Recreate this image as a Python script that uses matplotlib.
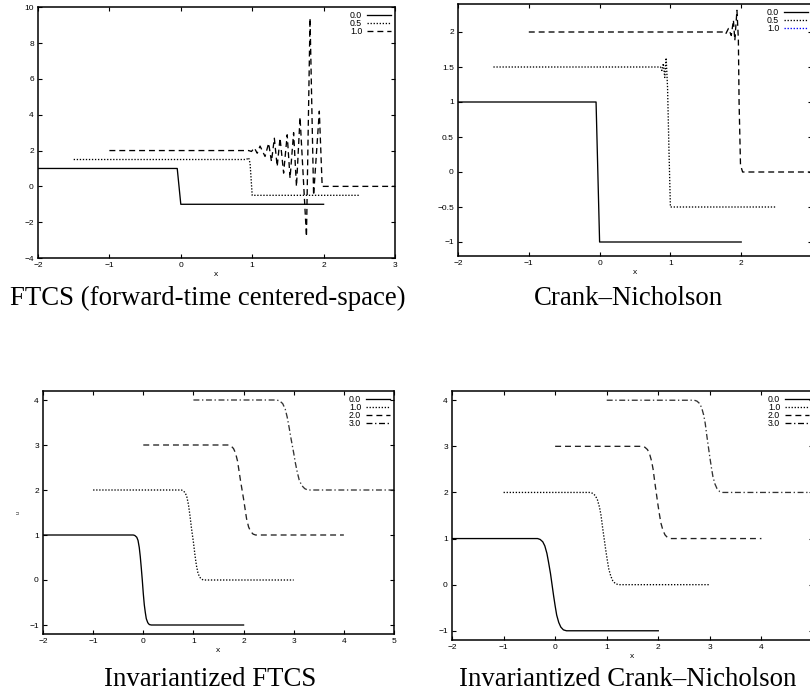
import matplotlib
matplotlib.use("Agg")
import matplotlib.pyplot as plt
from matplotlib.lines import Line2D
from matplotlib.ticker import FuncFormatter

plt.rcParams['font.family'] = ['Liberation Sans', 'DejaVu Sans']

# ---- FTCS (forward-time centered-space) ----
ftcs_x_00 = [-2.0, -0.05, 0.0, 2.0]
ftcs_u_00 = [1.0, 1.0, -1.0, -1.0]
ftcs_x_05 = [-1.5, 0.92, 0.95, 0.97, 1.0, 2.5]
ftcs_u_05 = [1.5, 1.5, 1.6, 1.3, -0.5, -0.5]
ftcs_x_10 = [-1.0, 0.95, 0.99, 1.03, 1.07, 1.11, 1.18, 1.23, 1.27, 1.31, 1.35, 1.39,
             1.44, 1.49, 1.53, 1.58, 1.62, 1.67, 1.76, 1.81, 1.86, 1.94, 1.98, 3.0]
ftcs_u_10 = [2.0, 2.0, 1.95, 2.15, 1.85, 2.25, 1.67, 2.41, 1.39, 2.69, 1.11, 2.7,
             0.74, 2.88, 0.46, 3.0, -0.01, 3.87, -2.8, 9.4, -0.5, 4.2, 0.0, 0.0]

# ---- Crank-Nicholson ----
cn_x_00 = [-2.0, -0.05, 0.0, 2.0]
cn_u_00 = [1.0, 1.0, -1.0, -1.0]
cn_x_05 = [-1.5, 0.86, 0.88, 0.90, 0.92, 0.94, 0.96, 0.98, 1.0, 2.5]
cn_u_05 = [1.5, 1.5, 1.45, 1.55, 1.35, 1.63, 1.2, 0.3, -0.5, -0.5]
cn_x_10 = [-1.0, 1.74, 1.78, 1.82, 1.86, 1.89, 1.91, 1.94, 1.96, 1.97, 1.99, 2.02, 3.0]
cn_u_10 = [2.0, 2.0, 1.97, 2.05, 1.95, 2.17, 1.88, 2.31, 1.9, 1.0, 0.1, 0.0, 0.0]

# ---- Invariantized FTCS ----
iftcs_x_0 = [-2.0, -0.20, -0.17, -0.13, -0.105, -0.08, -0.06, -0.04, -0.02, 0.0, 0.02,
             0.04, 0.06, 0.09, 0.12, 0.16, 2.0]
iftcs_u_0 = [1.0, 1.0, 0.99, 0.95, 0.88, 0.72, 0.52, 0.27, 0.0, -0.3, -0.55,
             -0.72, -0.86, -0.95, -0.99, -1.0, -1.0]
iftcs_x_1 = [-1.0, 0.76, 0.80, 0.84, 0.87, 0.90, 0.93, 0.96, 0.98, 1.00, 1.03, 1.06,
             1.09, 1.12, 1.16, 1.20, 3.0]
iftcs_u_1 = [2.0, 2.0, 1.98, 1.93, 1.84, 1.68, 1.44, 1.16, 1.0, 0.84, 0.56, 0.32,
             0.16, 0.07, 0.02, 0.0, 0.0]
iftcs_x_2 = [0.0, 1.70, 1.75, 1.80, 1.84, 1.88, 1.91, 1.94, 1.97, 2.00, 2.03, 2.06,
             2.10, 2.14, 2.19, 2.24, 4.0]
iftcs_u_2 = [3.0, 3.0, 2.98, 2.92, 2.82, 2.64, 2.42, 2.2, 2.0, 1.8, 1.58, 1.36,
             1.18, 1.08, 1.02, 1.0, 1.0]
iftcs_x_3 = [1.0, 2.66, 2.72, 2.78, 2.83, 2.87, 2.91, 2.94, 2.97, 3.00, 3.03, 3.07,
             3.11, 3.16, 3.22, 3.28, 5.0]
iftcs_u_3 = [4.0, 4.0, 3.98, 3.92, 3.8, 3.62, 3.38, 3.18, 3.0, 2.82, 2.62, 2.4,
             2.22, 2.1, 2.03, 2.0, 2.0]

# ---- Invariantized Crank-Nicholson ----
icn_x_0 = [-2.0, -0.34, -0.29, -0.24, -0.20, -0.16, -0.13, -0.09, -0.06, -0.03, 0.0,
           0.03, 0.07, 0.11, 0.16, 0.22, 2.0]
icn_u_0 = [1.0, 1.0, 0.98, 0.93, 0.84, 0.68, 0.5, 0.24, 0.0, -0.24, -0.46,
           -0.66, -0.82, -0.92, -0.98, -1.0, -1.0]
icn_x_1 = [-1.0, 0.68, 0.73, 0.78, 0.82, 0.86, 0.89, 0.92, 0.95, 0.98, 1.01, 1.04,
           1.08, 1.12, 1.17, 1.23, 3.0]
icn_u_1 = [2.0, 2.0, 1.98, 1.93, 1.84, 1.68, 1.5, 1.24, 1.0, 0.76, 0.54, 0.34,
           0.18, 0.08, 0.02, 0.0, 0.0]
icn_x_2 = [0.0, 1.69, 1.74, 1.79, 1.83, 1.87, 1.90, 1.93, 1.96, 1.99, 2.02, 2.05,
           2.09, 2.13, 2.18, 2.24, 4.0]
icn_u_2 = [3.0, 3.0, 2.98, 2.93, 2.84, 2.68, 2.5, 2.24, 2.0, 1.76, 1.54, 1.34,
           1.18, 1.08, 1.02, 1.0, 1.0]
icn_x_3 = [1.0, 2.70, 2.75, 2.80, 2.84, 2.88, 2.91, 2.94, 2.97, 3.00, 3.03, 3.06,
           3.10, 3.14, 3.19, 3.25, 5.0]
icn_u_3 = [4.0, 4.0, 3.98, 3.93, 3.84, 3.68, 3.5, 3.24, 3.0, 2.76, 2.54, 2.34,
           2.18, 2.08, 2.02, 2.0, 2.0]

labels_top = ['0.0', '0.5', '1.0']
labels_bot = ['0.0', '1.0', '2.0', '3.0']
titles = ['FTCS (forward-time centered-space)', 'Crank\u2013Nicholson',
          'Invariantized FTCS', 'Invariantized Crank\u2013Nicholson']

SOLID = '-'
DOT = (0, (1.0, 1.3))
DASH = (0, (4.5, 3.0))
DASHDOT = (0, (4.5, 2.0, 1.0, 2.0))

fig = plt.figure(figsize=(8.1, 6.94), dpi=100)

W, H = 810.0, 694.0


def make_ax(left, right, top, bottom):
    return fig.add_axes([left / W, 1 - bottom / H, (right - left) / W, (bottom - top) / H])


def style(ax, xlim, ylim, xticks, yticks, hide_last_x=False):
    ax.set_xlim(xlim)
    ax.set_ylim(ylim)
    ax.set_xticks(xticks)
    ax.set_yticks(yticks)
    last = xticks[-1]

    def fx(v, p):
        if hide_last_x and abs(v - last) < 1e-9:
            return ''
        return ('%g' % v).replace('-', '\u2212')

    ax.xaxis.set_major_formatter(FuncFormatter(fx))
    ax.yaxis.set_major_formatter(FuncFormatter(lambda v, p: ('%g' % v).replace('-', '\u2212')))
    ax.tick_params(direction='in', top=True, right=True, length=3, width=0.8,
                   labelsize=6, pad=3)
    for s in ax.spines.values():
        s.set_linewidth(1.1)
    ax.set_xlabel('x', fontsize=6, labelpad=1)


def legend(ax, handles, labels):
    ax.legend(handles, labels, loc='upper right', fontsize=6.3, markerfirst=False,
              frameon=False, handlelength=2.7, handletextpad=0.6, labelspacing=-0.1,
              borderaxespad=0.25, borderpad=0.2)


lw = 0.95

# top-left
ax1 = make_ax(38, 395, 7.3, 258)
ax1.plot(ftcs_x_00, ftcs_u_00, color='k', lw=lw, ls=SOLID)
ax1.plot(ftcs_x_05, ftcs_u_05, color='k', lw=lw, ls=DOT)
ax1.plot(ftcs_x_10, ftcs_u_10, color='k', lw=lw, ls=DASH)
style(ax1, (-2, 3), (-4, 10), list(range(-2, 4)), list(range(-4, 11, 2)))
legend(ax1, [Line2D([], [], color='k', lw=lw, ls=s) for s in (SOLID, DOT, DASH)], labels_top)

# top-right
ax2 = make_ax(458, 812, 4, 256)
ax2.plot(cn_x_00, cn_u_00, color='k', lw=lw, ls=SOLID)
ax2.plot(cn_x_05, cn_u_05, color='k', lw=lw, ls=DOT)
ax2.plot(cn_x_10, cn_u_10, color='k', lw=lw, ls=DASH)
style(ax2, (-2, 3), (-1.2, 2.4), list(range(-2, 4)), [-1, -0.5, 0, 0.5, 1, 1.5, 2],
      hide_last_x=True)
legend(ax2, [Line2D([], [], color='k', lw=lw, ls=SOLID),
             Line2D([], [], color='k', lw=lw, ls=DOT),
             Line2D([], [], color='b', lw=lw, ls=DOT)], labels_top)

# bottom-left
ax3 = make_ax(43, 394, 391, 634)
ax3.plot(iftcs_x_0, iftcs_u_0, color='k', lw=lw, ls=SOLID)
ax3.plot(iftcs_x_1, iftcs_u_1, color='k', lw=lw, ls=DOT)
ax3.plot(iftcs_x_2, iftcs_u_2, color='#222222', lw=lw, ls=DASH)
ax3.plot(iftcs_x_3, iftcs_u_3, color='#333333', lw=lw, ls=DASHDOT)
style(ax3, (-2, 5), (-1.2, 4.2), list(range(-2, 6)), list(range(-1, 5)))
ax3.set_ylabel('u', fontsize=3.5, labelpad=6)
legend(ax3, [Line2D([], [], color='k', lw=lw, ls=s) for s in (SOLID, DOT, DASH, DASHDOT)],
       labels_bot)

# bottom-right
ax4 = make_ax(452, 813, 391, 640)
ax4.plot(icn_x_0, icn_u_0, color='k', lw=lw, ls=SOLID)
ax4.plot(icn_x_1, icn_u_1, color='k', lw=lw, ls=DOT)
ax4.plot(icn_x_2, icn_u_2, color='#222222', lw=lw, ls=DASH)
ax4.plot(icn_x_3, icn_u_3, color='#333333', lw=lw, ls=DASHDOT)
style(ax4, (-2, 5), (-1.2, 4.2), list(range(-2, 6)), list(range(-1, 5)), hide_last_x=True)
legend(ax4, [Line2D([], [], color='k', lw=lw, ls=s) for s in (SOLID, DOT, DASH, DASHDOT)],
       labels_bot)

# captions
serif = ['Liberation Serif', 'DejaVu Serif']
fig.text(208 / W, 1 - 305 / H, titles[0], ha='center', va='baseline', fontsize=19.3, family=serif)
fig.text(628 / W, 1 - 305 / H, titles[1], ha='center', va='baseline', fontsize=19.3, family=serif)
fig.text(210 / W, 1 - 686 / H, titles[2], ha='center', va='baseline', fontsize=19.3, family=serif)
fig.text(628 / W, 1 - 686 / H, titles[3], ha='center', va='baseline', fontsize=19.3, family=serif)

fig.savefig('out.png', dpi=100)
